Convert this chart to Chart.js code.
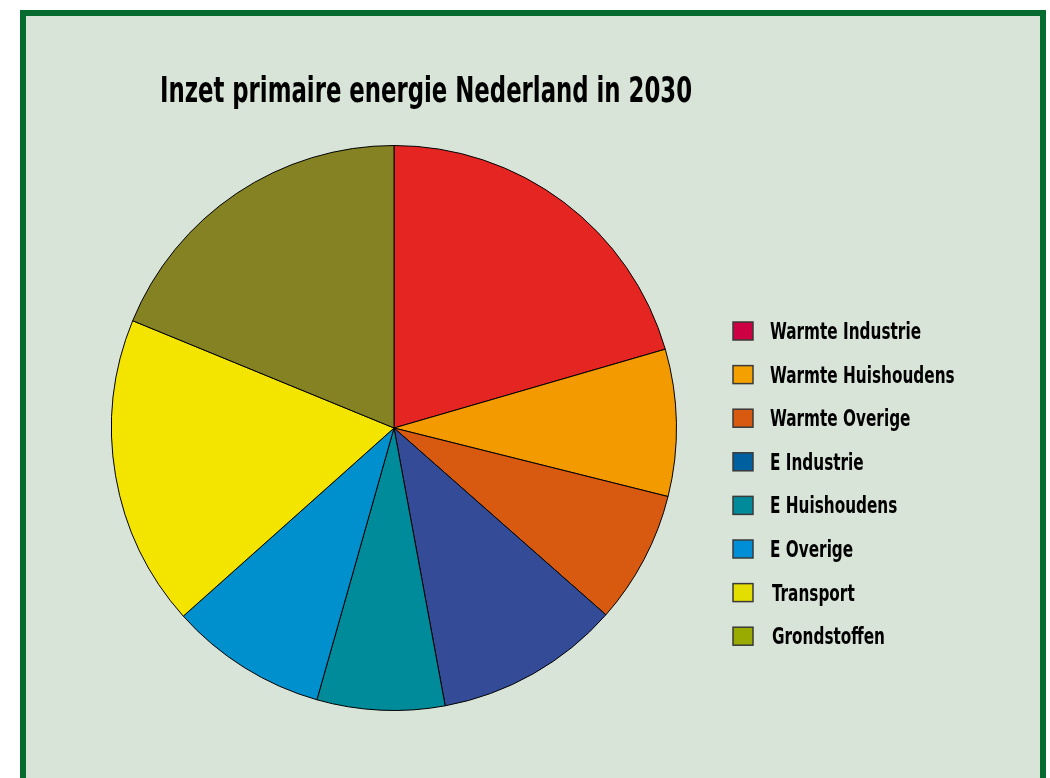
<!DOCTYPE html>
<html>
<head>
<meta charset="utf-8">
<script src="https://cdn.jsdelivr.net/npm/chart.js@4"></script>
<style>
  body { margin: 0; background: #ffffff; overflow: hidden; }
  #frame {
    position: absolute; left: 20px; top: 10px;
    width: 1026px; height: 800px;
    box-sizing: border-box;
    border: 6px solid #076b2f;
    background: #d9e4d8;
  }
  #chart { position: absolute; left: 0; top: 0; }
</style>
</head>
<body>
<div id="frame"></div>
<canvas id="chart" width="1050" height="778"></canvas>
<script>
var title = "Inzet primaire energie Nederland in 2030";
var categories = ["Warmte Industrie", "Warmte Huishoudens", "Warmte Overige", "E Industrie",
                  "E Huishoudens", "E Overige", "Transport", "Grondstoffen"];
// share in percent
var shares = [20.5, 8.4, 7.6, 10.6, 7.3, 9.0, 17.8, 18.8];
var sliceColors = ["#e52521", "#f29a00", "#d85a11", "#344b98",
                   "#008b9b", "#0090cd", "#f4e500", "#848223"];
var legendColors = ["#cc0042", "#f3a000", "#d85a11", "#005f9e",
                    "#008a9a", "#008fd6", "#e4de00", "#9aab00"];

var fontName = "'Liberation Sans Narrow', 'DejaVu Sans Condensed', sans-serif";

// title and legend are drawn by hand so they can sit where the original has them
var textPlugin = {
    id: "textPlugin",
    afterDraw: function(chart) {
        var ctx = chart.ctx;
        ctx.save();
        ctx.fillStyle = "#000";
        ctx.textBaseline = "alphabetic";
        ctx.textAlign = "left";
        ctx.font = "bold 35px " + fontName;
        ctx.fillText(title, 160, 102, 532);

        ctx.font = "bold 23px " + fontName;
        var scale = 151 / ctx.measureText(categories[0]).width;
        for (let i = 0; i < categories.length; i++) {
            var y = 331 + i * 43.6;
            ctx.fillStyle = legendColors[i];
            ctx.fillRect(733, y - 9, 20, 18);
            ctx.strokeStyle = "#3a3a3a";
            ctx.lineWidth = 1.5;
            ctx.strokeRect(733, y - 9, 20, 18);
            ctx.fillStyle = "#000";
            var w = ctx.measureText(categories[i]).width;
            ctx.fillText(categories[i], i >= 6 ? 772 : 770, y + 8, w * scale);
        }
        ctx.restore();
    }
};

var elem = document.getElementById("chart").getContext("2d");
const pieChart = new Chart(elem, {
    type: "pie",
    data: {
        labels: categories,
        datasets: [{
            data: shares,
            backgroundColor: sliceColors,
            borderColor: "#000",
            borderWidth: 1
        }]
    },
    options: {
        responsive: false,
        animation: false,
        events: [],
        layout: {
            padding: { left: 111, right: 373, top: 145, bottom: 67 }
        },
        plugins: {
            legend: { display: false },
            title: { display: false },
            tooltip: { enabled: false }
        }
    },
    plugins: [textPlugin]
});
</script>
</body>
</html>
